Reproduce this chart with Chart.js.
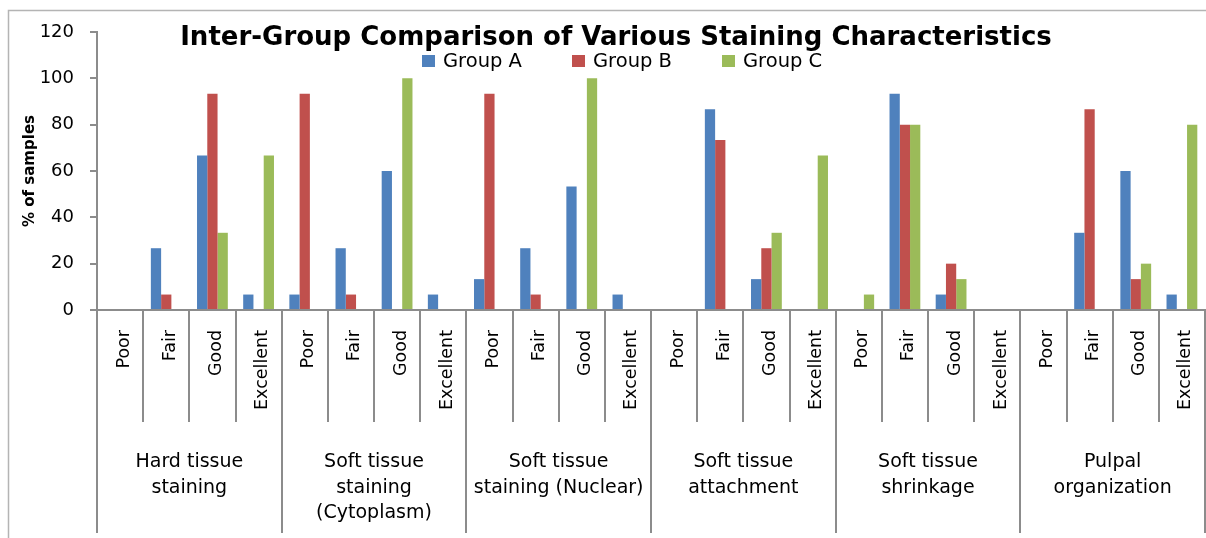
<!DOCTYPE html>
<html lang="en">
<head>
  <meta charset="UTF-8" />
  <title>Inter-Group Comparison of Various Staining Characteristics</title>
  <script src="https://cdn.jsdelivr.net/npm/chart.js"></script>
  <style>
    html, body {
      margin: 0;
      overflow: hidden;
      background-color: #ffffff;
    }
    canvas {
      display: block;
    }
  </style>
</head>
<body>

<canvas id="stainChart" width="1206" height="538"></canvas>

<script>
// Chart data (% of samples per group)
const chartTitle = 'Inter-Group Comparison of Various Staining Characteristics';
const yTitle = '% of samples';
const ratings = ['Poor', 'Fair', 'Good', 'Excellent'];
const groups = [
  ['Hard tissue', 'staining'],
  ['Soft tissue', 'staining', '(Cytoplasm)'],
  ['Soft tissue', 'staining (Nuclear)'],
  ['Soft tissue', 'attachment'],
  ['Soft tissue', 'shrinkage'],
  ['Pulpal', 'organization']
];
const categories = groups.flatMap(() => ratings);

const seriesNames = ['Group A', 'Group B', 'Group C'];
const groupA = [0, 26.67, 66.67, 6.67,  6.67, 26.67, 60, 6.67,  13.33, 26.67, 53.33, 6.67,  0, 86.67, 13.33, 0,  0, 93.33, 6.67, 0,  0, 33.33, 60, 6.67];
const groupB = [0, 6.67, 93.33, 0,  93.33, 6.67, 0, 0,  93.33, 6.67, 0, 0,  0, 73.33, 26.67, 0,  0, 80, 20, 0,  0, 86.67, 13.33, 0];
const groupC = [0, 0, 33.33, 66.67,  0, 0, 100, 0,  0, 0, 100, 0,  0, 0, 33.33, 66.67,  6.67, 80, 13.33, 0,  0, 0, 20, 80];

const yMin = 0;
const yMax = 120;
const yStep = 20;

const colors = ['#4F81BD', '#C0504D', '#9BBB59'];
const axisGray = '#8c8c8c';
const font = 'DejaVu Sans';

// white background + the thin outer frame (left and top edges show)
const framePlugin = {
  id: 'frame',
  beforeDraw(chart) {
    const ctx = chart.ctx;
    ctx.save();
    ctx.fillStyle = '#ffffff';
    ctx.fillRect(0, 0, chart.width, chart.height);
    ctx.strokeStyle = '#b4b4b4';
    ctx.lineWidth = 1.5;
    ctx.beginPath();
    ctx.moveTo(8.5, chart.height);
    ctx.lineTo(8.5, 10.5);
    ctx.lineTo(chart.width, 10.5);
    ctx.stroke();
    ctx.restore();
  }
};

// category separators, group names, title and legend
const labelPlugin = {
  id: 'groupLabels',
  afterDraw(chart) {
    const ctx = chart.ctx;
    const x = chart.scales.x;
    ctx.save();

    // separators under the axis
    ctx.strokeStyle = axisGray;
    ctx.lineWidth = 2;
    for (let i = 0; i <= categories.length; i++) {
      const px = Math.round(x.getPixelForValue(i - 0.5));
      const len = (i % ratings.length === 0) ? 223 : 112;
      ctx.beginPath();
      ctx.moveTo(px, x.top);
      ctx.lineTo(px, x.top + len);
      ctx.stroke();
    }

    // group names
    ctx.fillStyle = '#000000';
    ctx.font = '19px "' + font + '"';
    ctx.textAlign = 'center';
    ctx.textBaseline = 'alphabetic';
    groups.forEach((lines, g) => {
      const left = x.getPixelForValue(g * ratings.length - 0.5);
      const right = x.getPixelForValue(g * ratings.length + ratings.length - 0.5);
      lines.forEach((line, k) => {
        ctx.fillText(line, (left + right) / 2, x.top + 157 + k * 25.5);
      });
    });

    // title
    ctx.font = 'bold 26px "' + font + '"';
    ctx.fillText(chartTitle, 616, 45);

    // legend
    ctx.font = '19.5px "' + font + '"';
    ctx.textAlign = 'left';
    ctx.textBaseline = 'middle';
    chart.data.datasets.forEach((ds, i) => {
      const lx = 422 + i * 150;
      ctx.fillStyle = ds.backgroundColor;
      ctx.fillRect(lx, 55, 13, 12);
      ctx.fillStyle = '#000000';
      ctx.fillText(ds.label, lx + 21, 62);
    });

    ctx.restore();
  }
};

const ctx = document.getElementById('stainChart').getContext('2d');
const stainChart = new Chart(ctx, {
  type: 'bar',
  data: {
    labels: categories,
    datasets: [groupA, groupB, groupC].map((values, i) => ({
      label: seriesNames[i],
      data: values,
      backgroundColor: colors[i],
      borderWidth: 0,
      categoryPercentage: 0.667,
      barPercentage: 1
    }))
  },
  options: {
    responsive: false,
    animation: false,
    layout: {
      padding: { top: 32, right: 1, bottom: 0, left: 0 }
    },
    plugins: {
      legend: { display: false },
      title: { display: false },
      tooltip: { enabled: false }
    },
    scales: {
      x: {
        grid: { display: false, drawTicks: false },
        border: { display: true, color: axisGray, width: 2 },
        ticks: {
          autoSkip: false,
          minRotation: 90,
          maxRotation: 90,
          padding: 20,
          labelOffset: 4,
          color: '#000000',
          font: { family: font, size: 17.5 }
        },
        afterFit: scale => {
          scale.height = 228;
          // the rotated labels fit inside their columns, no side padding needed
          scale.paddingLeft = 0;
          scale.paddingRight = 0;
        }
      },
      y: {
        min: yMin,
        max: yMax,
        ticks: {
          stepSize: yStep,
          padding: 16,
          color: '#000000',
          font: { family: font, size: 18 }
        },
        grid: {
          drawOnChartArea: false,
          drawTicks: true,
          tickLength: 7,
          color: axisGray,
          lineWidth: 2
        },
        border: { display: true, color: axisGray, width: 2 },
        title: {
          display: true,
          text: yTitle,
          color: '#000000',
          font: { family: font, size: 15, weight: 'bold' },
          padding: { top: 21, bottom: 0 }
        },
        afterFit: scale => { scale.width = 97; }
      }
    }
  },
  plugins: [framePlugin, labelPlugin]
});
</script>

</body>
</html>
